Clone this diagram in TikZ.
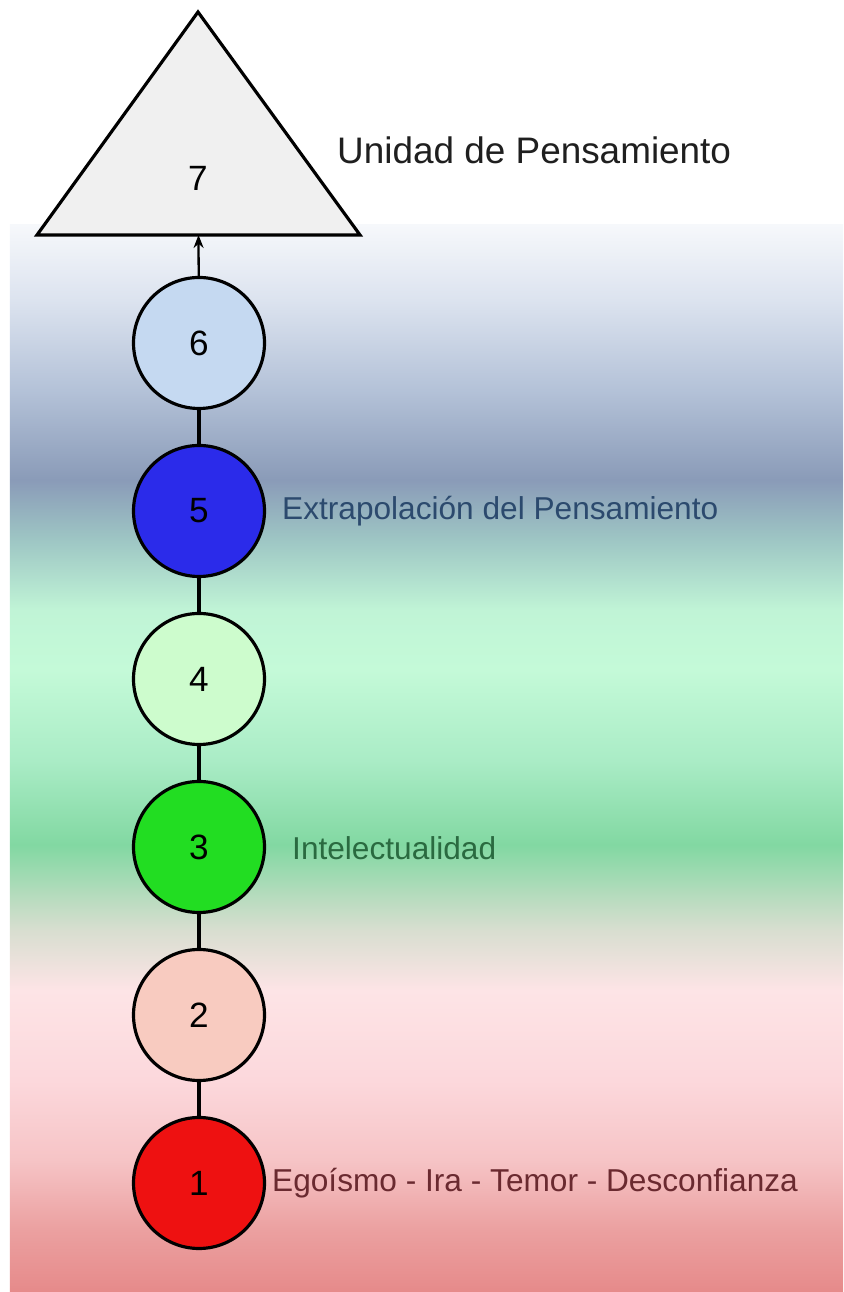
\documentclass[tikz,border=0pt]{standalone}
\usepackage{fontspec}
\setmainfont{Liberation Sans}
\usetikzlibrary{positioning, arrows.meta}

% colours of the background bands
\definecolor{bgA}{HTML}{E68A8A}
\definecolor{bgB}{HTML}{EBA0A0}
\definecolor{bgC}{HTML}{F6C4C6}
\definecolor{bgD}{HTML}{FCD8DC}
\definecolor{bgE}{HTML}{FDE4E6}
\definecolor{bgF}{HTML}{D8DED0}
\definecolor{bgG}{HTML}{82D8A2}
\definecolor{bgH}{HTML}{AAECC6}
\definecolor{bgI}{HTML}{C4FAD8}
\definecolor{bgJ}{HTML}{C0F4D6}
\definecolor{bgK}{HTML}{9EC6C4}
\definecolor{bgL}{HTML}{8A9BB8}
\definecolor{bgM}{HTML}{B4C2D8}
\definecolor{bgN}{HTML}{DCE3EF}
\definecolor{bgO}{HTML}{F6F8FB}
% colours of the stages
\definecolor{stageone}{HTML}{EE1111}
\definecolor{stagetwo}{HTML}{F8CBC0}
\definecolor{stagethree}{HTML}{22DD22}
\definecolor{stagefour}{HTML}{CDFCCD}
\definecolor{stagefive}{HTML}{2B2BEA}
\definecolor{stagesix}{HTML}{C5D9F1}
\definecolor{tri}{HTML}{F0F0F0}
\definecolor{txtred}{HTML}{6A2A30}
\definecolor{txtgreen}{HTML}{2A6A40}
\definecolor{txtblue}{HTML}{2C4A6E}

\pgfdeclareverticalshading{bands}{100bp}{color(0bp)=(bgA); color(25bp)=(bgA);
  color(27.9bp)=(bgB); color(31.2bp)=(bgC); color(34.9bp)=(bgD);
  color(39.15bp)=(bgE); color(41.96bp)=(bgF); color(45.95bp)=(bgG);
  color(49.93bp)=(bgH); color(54.15bp)=(bgI); color(56.96bp)=(bgJ);
  color(60.24bp)=(bgK); color(63.05bp)=(bgL); color(67.27bp)=(bgM);
  color(71.49bp)=(bgN); color(75bp)=(bgO); color(100bp)=(bgO)}

\tikzset{
  stage/.style={circle, draw, line width=1.8pt, minimum size=2.62cm, inner sep=0pt,
    font=\fontsize{20}{24}\selectfont},
  link/.style={line width=1.8pt},
  caption/.style={anchor=west, font=\fontsize{18}{22}\selectfont}
}

\begin{document}
\begin{tikzpicture}
		\useasboundingbox (0,0) rectangle (16.86,25.84);
		% background bands
		\shade[shading=bands] (0.2,0) rectangle (16.86,21.34);
		% the top triangle
		\draw[line width=1.8pt, fill=tri] (0.74,21.14) -- (3.96,25.6) -- (7.2,21.14) -- cycle;
		\coordinate (base) at (3.97,21.14);
		\node[font=\fontsize{20}{24}\selectfont] (n7) at (3.96,22.28) {7};
		% stages 1 to 6
		\foreach \n/\col in {1/stageone,2/stagetwo,3/stagethree,4/stagefour,5/stagefive,6/stagesix}
		{
			\node[stage, fill=\col] (c\n) at (3.98,{2.18+3.36*(\n-1)}) {\n};
		}
		% links between the stages
		\foreach \a/\b in {1/2,2/3,3/4,4/5,5/6}
		{
			\draw[link] (c\a) -- (c\b);
		}
		% arrow into the triangle
		\draw[-{Stealth[length=0.26cm, width=0.2cm]}, line width=1.3pt] (c6) -- (base);
		% labels
		\node[anchor=west, font=\fontsize{21}{25}\selectfont, text=black!88] (l7) at (6.62,22.84) {Unidad de Pensamiento};
		\node[caption, text=txtblue] (l5) at (5.52,15.62) {Extrapolación del Pensamiento};
		\node[caption, text=txtgreen] (l3) at (5.72,8.88) {Intelectualidad};
		\node[caption, text=txtred] (l1) at (5.32,2.18) {Egoísmo - Ira - Temor - Desconfianza};
	\end{tikzpicture}
\end{document}
